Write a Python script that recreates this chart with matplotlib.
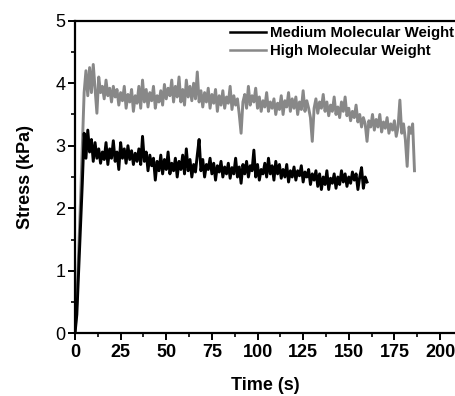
import matplotlib
matplotlib.use("Agg")
import matplotlib.pyplot as plt
from matplotlib.ticker import MultipleLocator

plt.rcParams['font.family'] = ['Liberation Sans', 'DejaVu Sans']

medium_label = "Medium Molecular Weight"
high_label = "High Molecular Weight"

# Medium molecular weight: stress (kPa) at t = 0, 1, 2, ... s
medium_stress = [
    0.0, 0.3, 1.0, 1.7, 2.4, 3.2, 2.8, 3.25, 2.9, 3.1,
    2.75, 3.05, 2.8, 2.95, 2.72, 2.9, 2.78, 3.05, 2.7, 2.95,
    2.8, 3.08, 2.75, 2.9, 2.62, 3.05, 2.8, 2.95, 2.72, 3.0,
    2.78, 2.92, 2.7, 2.88, 2.75, 2.95, 2.7, 3.15, 2.75, 2.9,
    2.6, 2.85, 2.68, 2.8, 2.45, 2.75, 2.6, 2.85, 2.55, 2.78,
    2.62, 2.9, 2.55, 2.72, 2.6, 2.8, 2.5, 2.75, 2.62, 2.85,
    2.55, 2.95, 2.6, 2.78, 2.5, 2.7, 2.58, 2.85, 3.1, 2.6,
    2.78, 2.5, 2.7, 2.62, 2.8, 2.55, 2.72, 2.45, 2.68, 2.58,
    2.75, 2.5, 2.66, 2.55, 2.72, 2.48, 2.65, 2.55, 2.8, 2.5,
    2.66, 2.4, 2.7, 2.55, 2.75, 2.5, 2.68, 2.6, 2.93, 2.5,
    2.7, 2.45, 2.62, 2.55, 2.72, 2.5, 2.8, 2.55, 2.68, 2.45,
    2.75, 2.55, 2.7, 2.48, 2.62, 2.5, 2.7, 2.42, 2.6, 2.5,
    2.66, 2.45, 2.6, 2.52, 2.68, 2.42, 2.58, 2.5, 2.62, 2.38,
    2.55, 2.45, 2.6, 2.35, 2.55, 2.3, 2.5, 2.38, 2.6, 2.3,
    2.48, 2.4, 2.55, 2.32, 2.5, 2.38, 2.6, 2.42, 2.55, 2.35,
    2.5, 2.4, 2.58, 2.45, 2.55, 2.3, 2.5, 2.65, 2.32, 2.5,
    2.42,
]

# High molecular weight: stress (kPa) at t = 0, 1, 2, ... s
high_stress = [
    0.0, 0.5, 1.3, 2.1, 3.0, 3.85, 4.2, 3.8, 4.25, 3.85,
    4.3, 3.9, 3.52, 4.1, 3.85, 3.95, 3.75, 4.05, 3.8, 3.92,
    3.7, 3.95, 3.78, 3.9, 3.65, 3.85, 3.72, 3.95, 3.6, 3.82,
    3.7, 3.9, 3.55, 3.8, 3.68, 3.95, 3.6, 4.05, 3.7, 3.9,
    3.62, 3.85, 3.72, 3.95, 3.6, 3.8, 3.7, 3.88, 3.65, 3.98,
    3.75, 3.92, 3.8, 4.05, 3.7, 3.95, 3.78, 4.1, 3.7, 3.9,
    3.65, 4.05, 3.78, 3.95, 3.72, 4.0, 3.75, 4.18, 3.7, 3.88,
    3.62, 3.85, 3.7, 3.92, 3.6, 3.82, 3.68, 3.9, 3.55, 3.8,
    3.65, 3.88, 3.6, 3.78, 3.68, 3.95, 3.58, 3.8, 3.65, 3.75,
    3.5, 3.2, 3.7, 3.82, 3.6, 3.95, 3.65, 3.8, 3.7, 3.92,
    3.6, 3.78, 3.55, 3.72, 3.62, 3.85, 3.55, 3.7, 3.6, 3.75,
    3.5, 3.68, 3.58, 3.8, 3.5, 3.72, 3.62, 3.85, 3.55, 3.75,
    3.6, 3.78, 3.5, 3.7, 3.58, 3.88, 3.55, 3.72, 3.6, 3.45,
    3.07, 3.6, 3.75, 3.52, 3.7, 3.6, 3.82, 3.55, 3.7, 3.48,
    3.65, 3.55, 3.78, 3.5, 3.62, 3.45, 3.7, 3.55, 3.78, 3.48,
    3.6, 3.4, 3.55, 3.45, 3.65, 3.38, 3.5, 3.3, 3.45, 3.35,
    3.07, 3.4, 3.3, 3.5, 3.25, 3.42, 3.3, 3.5, 3.22, 3.38,
    3.28, 3.45, 3.2, 3.35, 3.25, 3.4, 3.15, 3.3, 3.73, 3.2,
    3.35, 3.1, 2.67, 3.3, 3.2, 3.35, 2.6,
]

medium_time = list(range(len(medium_stress)))
high_time = list(range(len(high_stress)))

x_ticks = [0, 25, 50, 75, 100, 125, 150, 175, 200]
y_ticks = [0, 1, 2, 3, 4, 5]

W, H = 455, 396
fig = plt.figure(figsize=(W / 100, H / 100), dpi=100)
ax = fig.add_axes([75 / W, 1 - 333.3 / H, 1 - 75 / W, (333.3 - 20.7) / H])

ax.plot(medium_time, medium_stress, color='black', lw=2.1, label=medium_label, zorder=3)
ax.plot(high_time, high_stress, color='#888888', lw=2.1, label=high_label, zorder=2)

ax.set_xlim(0, 208.2)
ax.set_ylim(0, 5)
ax.set_xticks(x_ticks)
ax.set_yticks(y_ticks)
ax.xaxis.set_minor_locator(MultipleLocator(12.5))
ax.yaxis.set_minor_locator(MultipleLocator(0.5))

for s in ['left', 'bottom', 'top']:
    ax.spines[s].set_linewidth(1.6)
ax.spines['right'].set_visible(False)

ax.tick_params(which='major', direction='out', length=5, width=1.4, labelsize=13)
ax.tick_params(which='minor', direction='out', length=3, width=1.2)
ax.tick_params(axis='y', pad=2)
ax.tick_params(axis='x', pad=3)
for lbl in ax.get_xticklabels():
    lbl.set_fontweight('bold')

ax.set_xlabel('Time (s)', fontsize=13, fontweight='bold', labelpad=11)
ax.set_ylabel('Stress (kPa)', fontsize=13, fontweight='bold', labelpad=15)

leg = fig.legend(loc='upper right', bbox_to_anchor=(454 / W, 1 - 26 / H),
                 frameon=False, prop={'weight': 'bold', 'size': 10.8},
                 handlelength=2.4, handletextpad=0.3, labelspacing=0.3,
                 borderpad=0, borderaxespad=0)
for line in leg.get_lines():
    line.set_linewidth(1.8)

fig.savefig('out.png', dpi=100)
